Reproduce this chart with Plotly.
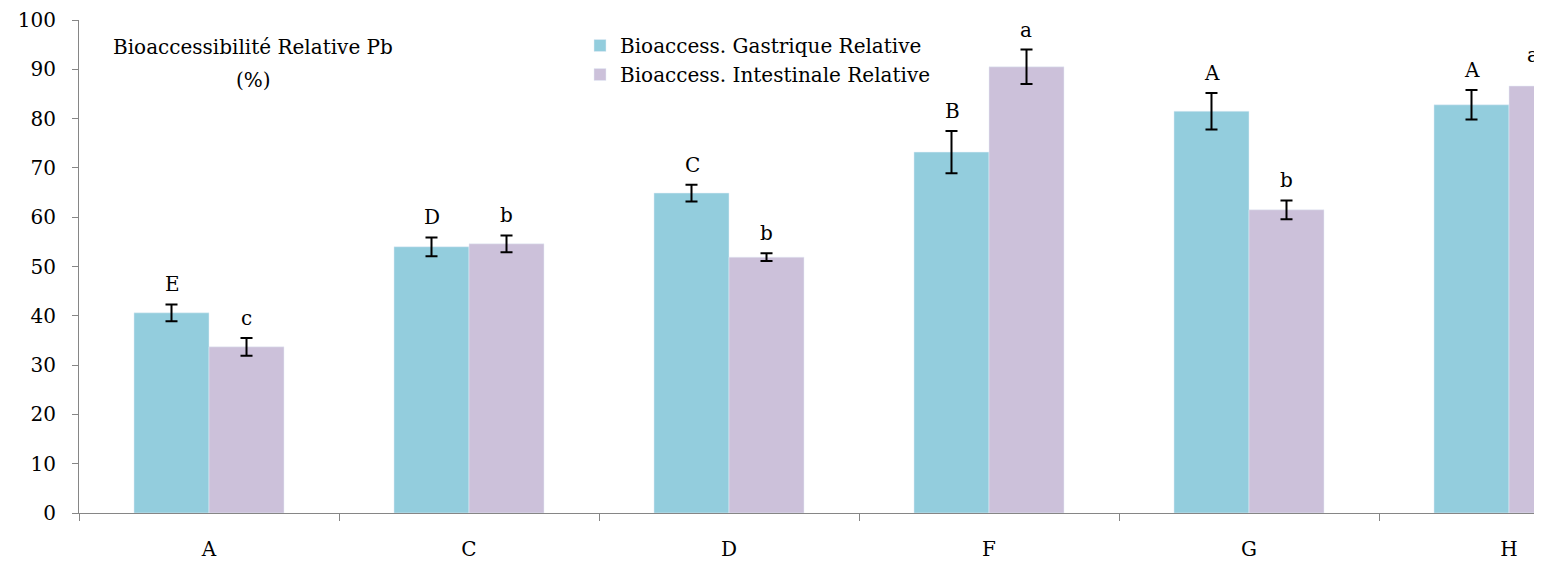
import plotly.graph_objects as go

# données
echantillons = ['A', 'C', 'D', 'F', 'G', 'H']
gastrique = [40.6, 54.0, 64.9, 73.2, 81.5, 82.8]
gastrique_err = [1.7, 1.9, 1.7, 4.3, 3.7, 3.0]
intestinale = [33.7, 54.6, 51.9, 90.5, 61.5, 86.6]
intestinale_err = [1.8, 1.7, 0.8, 3.5, 1.9, 2.7]
lettres_gastrique = ['E', 'D', 'C', 'B', 'A', 'A']
lettres_intestinale = ['c', 'b', 'b', 'a', 'b', 'a']

police = 'DejaVu Serif, Times New Roman, serif'
taille = 20

# la page a une marge de 8 px : on la compense
W, H = 1534, 556
L, T, B = 71, 12, 51
plot_w = W - L
plot_h = H - T - B


def px_x(x):
    # position écran (px) -> fraction du cadre du graphique
    return (x - 8 - L) / plot_w


def px_y(y):
    return (513 - y) / plot_h


fig = go.Figure()

fig.add_trace(go.Bar(
    x=echantillons, y=gastrique,
    name='Bioaccess. Gastrique Relative',
    marker=dict(color='#93CDDD'),
    error_y=dict(type='data', array=gastrique_err, color='black', thickness=2, width=6),
))
fig.add_trace(go.Bar(
    x=echantillons, y=intestinale,
    name='Bioaccess. Intestinale Relative',
    marker=dict(color='#CCC1DA'),
    error_y=dict(type='data', array=intestinale_err, color='black', thickness=2, width=6),
))

# lettres de significativité au-dessus des barres
for i, cat in enumerate(echantillons):
    fig.add_annotation(x=cat, y=gastrique[i] + gastrique_err[i], text=lettres_gastrique[i],
                       xshift=-37, yshift=6, yanchor='bottom', showarrow=False,
                       font=dict(family=police, size=taille, color='black'))
    if i < len(echantillons) - 1:
        fig.add_annotation(x=cat, y=intestinale[i] + intestinale_err[i], text=lettres_intestinale[i],
                           xshift=37, yshift=6, yanchor='bottom', showarrow=False,
                           font=dict(family=police, size=taille, color='black'))

# dernière lettre : barre coupée par le bord droit, on la garde lisible
fig.add_annotation(xref='paper', yref='paper', x=px_x(1541), y=px_y(55),
                   xanchor='right', yanchor='middle',
                   text=lettres_intestinale[-1], showarrow=False,
                   font=dict(family=police, size=taille, color='black'))

fig.add_annotation(xref='paper', yref='paper', x=px_x(253), y=px_y(47),
                   xanchor='center', yanchor='middle',
                   text='Bioaccessibilité Relative Pb', showarrow=False,
                   font=dict(family=police, size=taille, color='black'))
fig.add_annotation(xref='paper', yref='paper', x=px_x(253), y=px_y(80),
                   xanchor='center', yanchor='middle',
                   text='(%)', showarrow=False,
                   font=dict(family=police, size=taille, color='black'))

fig.update_layout(
    width=W, height=H,
    margin=dict(l=L, r=0, t=T, b=B, autoexpand=False),
    plot_bgcolor='white', paper_bgcolor='white',
    barmode='group', bargap=0.423, bargroupgap=0,
    font=dict(family=police, size=taille, color='black'),
    showlegend=True,
    legend=dict(x=px_x(580), y=px_y(26), xanchor='left', yanchor='top',
                bgcolor='rgba(0,0,0,0)', font=dict(size=taille), itemwidth=30,
                tracegroupgap=0),
    xaxis=dict(range=[-0.5, 5.5 - 97 / 260], showline=True, linecolor='#868686', linewidth=1,
               ticks='outside', tickson='boundaries', ticklen=7, tickcolor='#868686',
               ticklabelstandoff=18, showgrid=False, automargin=False),
    yaxis=dict(range=[0, 100], dtick=10, showline=True, linecolor='#868686', linewidth=1,
               ticks='outside', ticklen=6, tickcolor='#868686', showgrid=False,
               zeroline=False, ticklabelstandoff=12, automargin=False),
)

fig.write_html('out.html')
